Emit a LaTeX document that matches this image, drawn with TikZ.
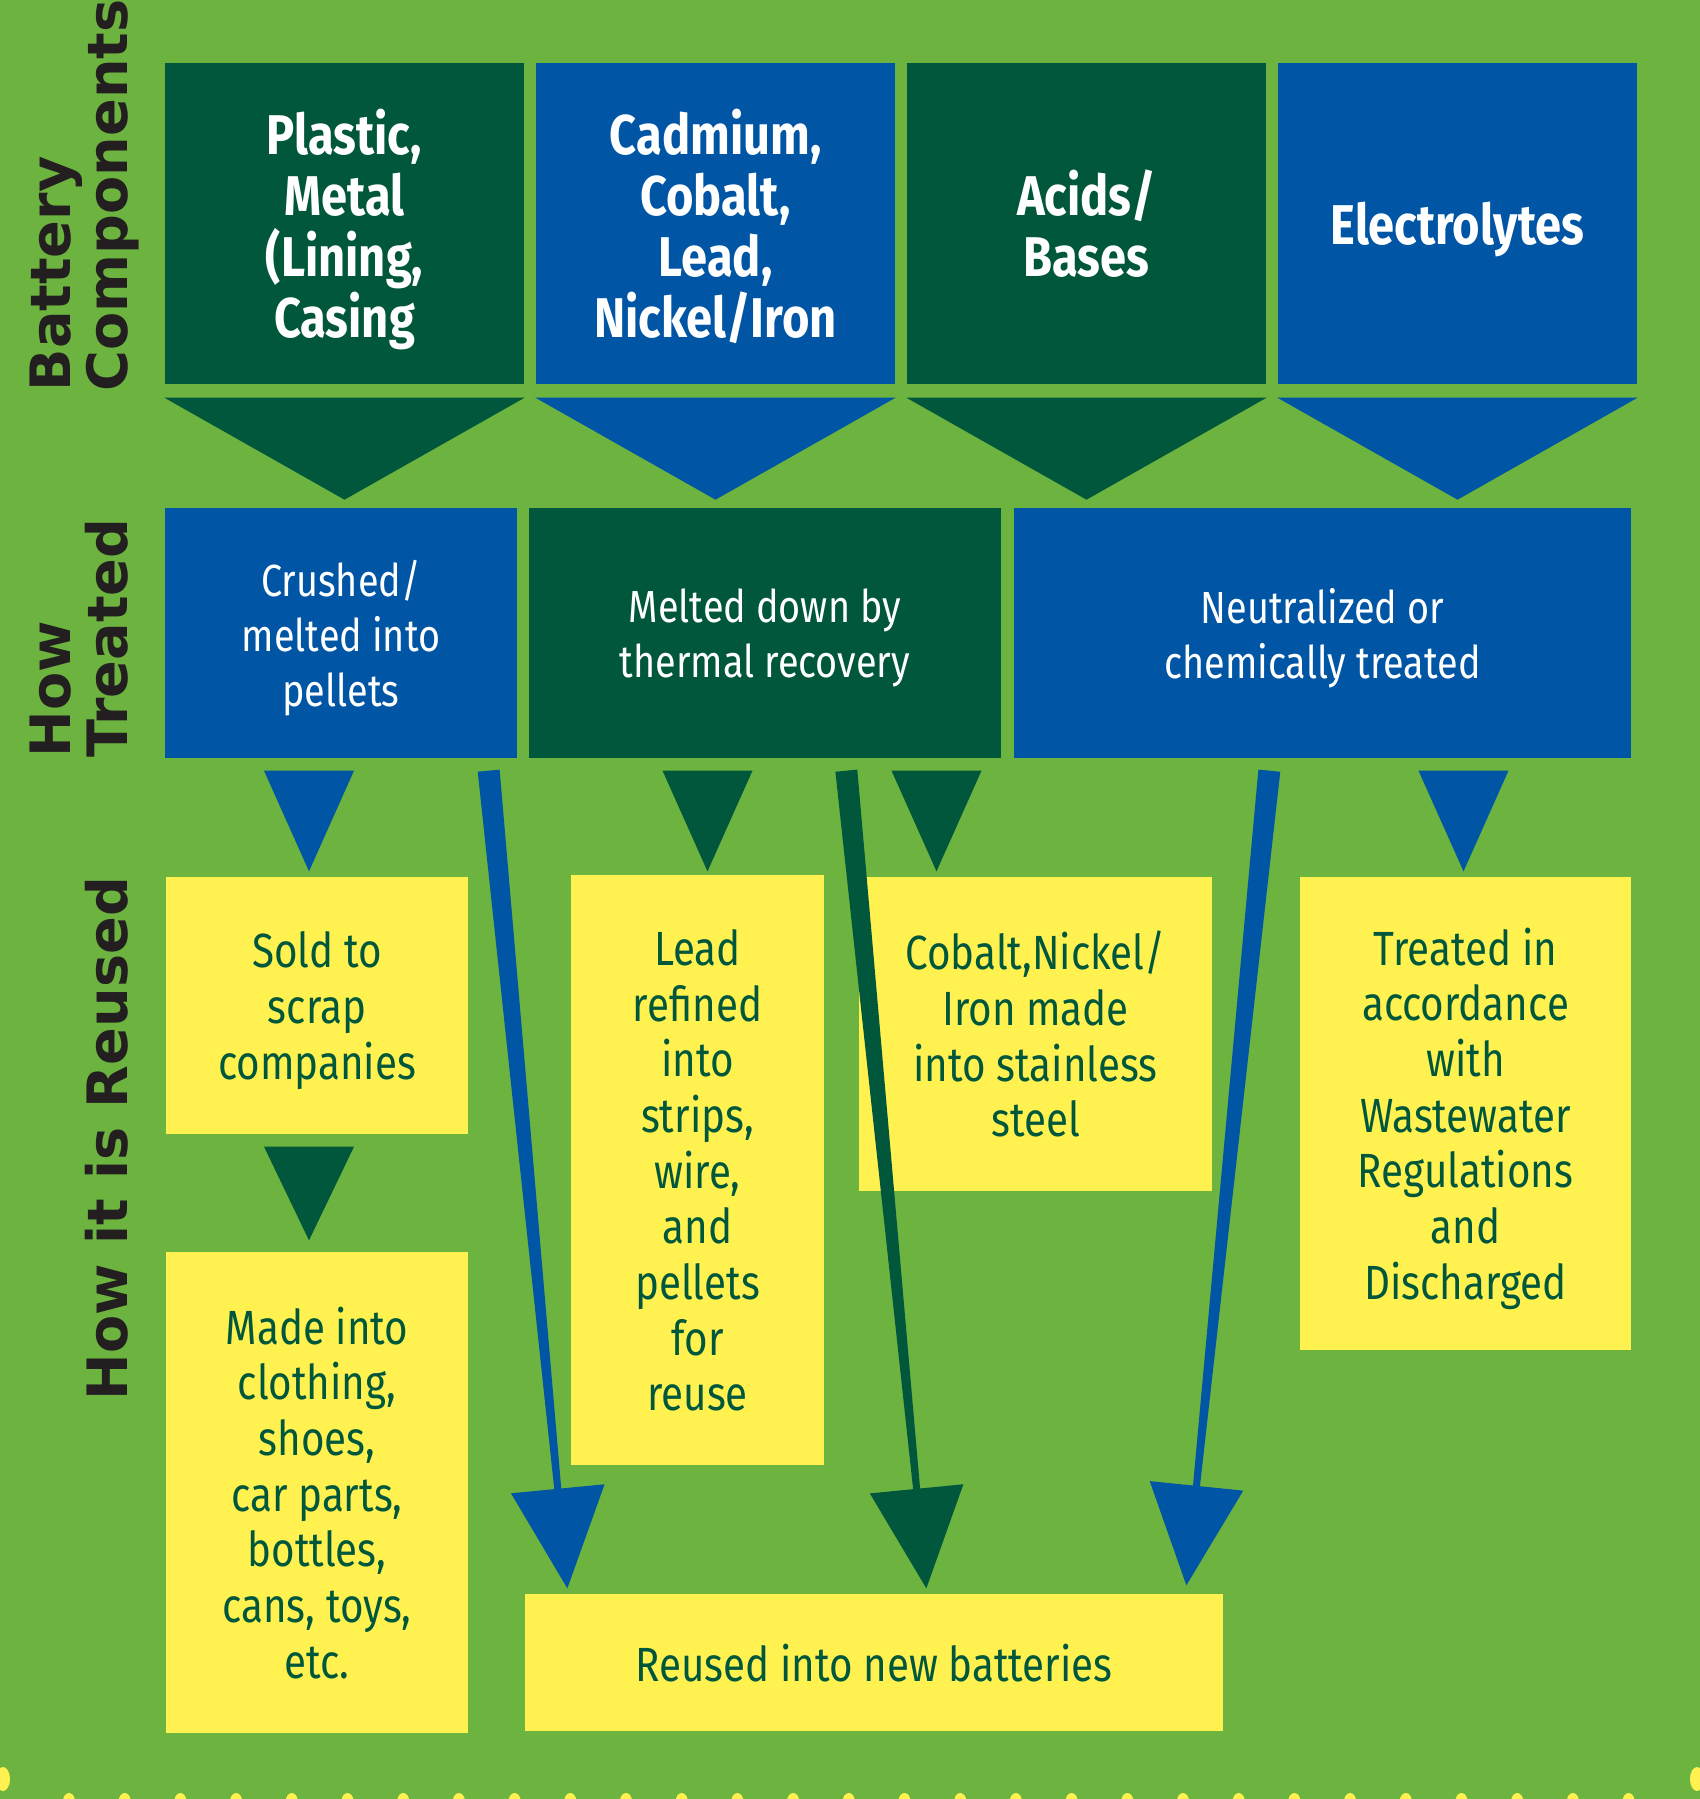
\documentclass[tikz,border=0pt]{standalone}
\usepackage{fontspec}
\setmainfont{Fira Sans}[FakeStretch=0.84]
\newfontfamily\labelfont{DejaVu Sans}
\usetikzlibrary{calc}

\definecolor{bggreen}{HTML}{6DB33F}
\definecolor{dkgreen}{HTML}{00573C}
\definecolor{midblue}{HTML}{0055A5}
\definecolor{lemon}{HTML}{FFF150}
\definecolor{ink}{HTML}{231F20}

% tapered arrow: colour, start, tip
\newcommand{\taperarrow}[3]{%
  \coordinate (hb) at ($(#3)!30pt!(#2)$);
  \fill[#1] ($(#2)!3.3pt!90:(#3)$) -- ($(hb)!1.05pt!-90:(#2)$) -- ($(hb)!14.1pt!-90:(#2)$) -- (#3)
    -- ($(hb)!14.1pt!90:(#2)$) -- ($(hb)!1.05pt!90:(#2)$) -- ($(#2)!3.3pt!-90:(#3)$) -- cycle;}
% small drop triangle: colour, source node, tip
\newcommand{\droptri}[3]{%
  \path (#2.south -| #3) coordinate (dt);
  \fill[#1] ($(dt)+(-45,12)$) -- ($(dt)+(45,12)$) -- (#3) -- cycle;}

\begin{document}
\begin{tikzpicture}[x=0.3pt,y=0.3pt,yscale=-1,xscale=1,
  box/.style={rectangle,inner sep=0pt,align=center,text depth=0pt},
  hdr/.style={box,text=white,font=\bfseries\fontsize{16.8}{18.3}\selectfont,minimum width=107.7pt,minimum height=96.3pt},
  how/.style={box,text=white,font=\fontsize{13.5}{16.5}\selectfont,minimum height=75pt},
  outcome/.style={box,fill=lemon,text=dkgreen,font=\fontsize{14.4}{16.7}\selectfont},
  sidelabel/.style={text=ink,font=\labelfont\bfseries\fontsize{16.7}{17}\selectfont,rotate=90,anchor=base west,inner sep=0pt}]
	\useasboundingbox (0,0) rectangle (1700,1799);
	\fill[bggreen] (0,0) rectangle (1700,1799);
	% dots along the bottom
	\foreach \i in {0,...,28}
	  \fill[lemon] (69+55.7*\i,1801) ellipse [x radius=6,y radius=8];
	\fill[lemon] (3,1779) ellipse [x radius=7,y radius=12];
	\fill[lemon] (1697,1779) ellipse [x radius=7,y radius=12];

	% side labels
	\node[sidelabel] (lbat) at (70,392) {Battery};
	\node[sidelabel] (lcomp) at (127,392) {Components};
	\node[sidelabel] (lhow) at (70,758) {How};
	\node[sidelabel] (ltreat) at (127,758) {Treated};
	\node[sidelabel] (lreuse) at (127,1401) {How it is Reused};

	% battery components
	\node[hdr,fill=dkgreen] (plastic) at (344.5,223.5) {Plastic,\\Metal\\(Lining,\\Casing};
	\node[hdr,fill=midblue] (metals) at (715.5,223.5) {Cadmium,\\Cobalt,\\Lead,\\Nickel/Iron};
	\node[hdr,fill=dkgreen] (acids) at (1086.5,223.5) {Acids/\\Bases};
	\node[hdr,fill=midblue] (electro) at (1457.5,223.5) {Electrolytes};
	\foreach \n/\c in {plastic/dkgreen,metals/midblue,acids/dkgreen,electro/midblue}
	  \fill[\c] ($(\n.south west)+(0,13)$) -- ($(\n.south east)+(0,13)$) -- ($(\n.south)+(0,115)$) -- cycle;

	% how treated
	\node[how,fill=midblue,minimum width=105.6pt] (crush) at (341,633) {Crushed/\\melted into\\pellets};
	\node[how,fill=dkgreen,minimum width=141.6pt] (melt) at (765,633) {Melted down by\\thermal recovery};
	\node[how,fill=midblue,minimum width=185.1pt] (neutral) at (1322.5,633) {Neutralized or\\chemically treated};

	% how it is reused
	\node[outcome,minimum width=90.6pt,minimum height=77.1pt] (sold) at (317,1005.5) {Sold to\\scrap\\companies};
	\node[outcome,minimum width=90.6pt,minimum height=144.3pt] (goods) at (317,1492.5) {Made into\\clothing,\\shoes,\\car parts,\\bottles,\\cans, toys,\\etc.};
	\node[outcome,minimum width=75.9pt,minimum height=177pt] (lead) at (697.5,1170) {Lead\\refined\\into\\strips,\\wire,\\and\\pellets\\for\\reuse};
	\node[outcome,minimum width=105.9pt,minimum height=94.2pt] (steel) at (1035.5,1034) {Cobalt,Nickel/\\Iron made\\into stainless\\steel};
	\node[outcome,minimum width=99.3pt,minimum height=141.9pt] (water) at (1465.5,1113.5) {Treated in\\accordance\\with\\Wastewater\\Regulations\\and\\Discharged};
	\node[outcome,minimum width=209.4pt,minimum height=41.1pt] (reuse) at (874,1662.5) {Reused into new batteries};

	% drop triangles
	\coordinate (t1) at ($(sold.north)+(-8,-5)$);
	\coordinate (t2) at ($(lead.north)+(10,-3)$);
	\coordinate (t3) at ($(steel.north)+(-99,-5)$);
	\coordinate (t4) at ($(water.north)+(-2,-5)$);
	\coordinate (t5) at ($(goods.north)+(-8,-11)$);
	\droptri{midblue}{crush}{t1}
	\droptri{dkgreen}{melt}{t2}
	\droptri{dkgreen}{melt}{t3}
	\droptri{midblue}{neutral}{t4}
	\droptri{dkgreen}{sold}{t5}

	% long arrows to new batteries
	\coordinate (a1) at ($(crush.south east)+(-29,12)$);
	\coordinate (b1) at ($(reuse.north west)+(43,-5)$);
	\coordinate (a2) at ($(melt.south west)+(318,12)$);
	\coordinate (b2) at ($(reuse.north west)+(402,-5)$);
	\coordinate (a3) at ($(neutral.south west)+(256,12)$);
	\coordinate (b3) at ($(reuse.north west)+(662,-8)$);
	\taperarrow{midblue}{a1}{b1}
	\taperarrow{dkgreen}{a2}{b2}
	\taperarrow{midblue}{a3}{b3}
\end{tikzpicture}
\end{document}
